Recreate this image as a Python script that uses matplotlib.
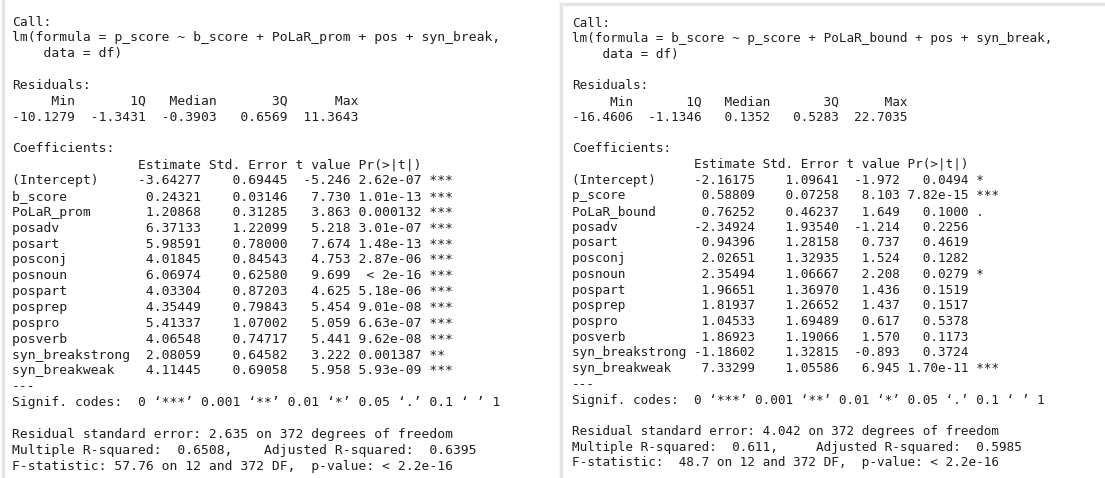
import matplotlib.pyplot as plt

# ---- left model: p_score ~ ...
left_formula = "p_score ~ b_score + PoLaR_prom + pos + syn_break"
left_resid = [-10.1279, -1.3431, -0.3903, 0.6569, 11.3643]
left_terms = ["(Intercept)", "b_score", "PoLaR_prom", "posadv", "posart", "posconj",
              "posnoun", "pospart", "posprep", "pospro", "posverb",
              "syn_breakstrong", "syn_breakweak"]
left_est = [-3.64277, 0.24321, 1.20868, 6.37133, 5.98591, 4.01845, 6.06974,
            4.03304, 4.35449, 5.41337, 4.06548, 2.08059, 4.11445]
left_se = [0.69445, 0.03146, 0.31285, 1.22099, 0.78000, 0.84543, 0.62580,
           0.87203, 0.79843, 1.07002, 0.74717, 0.64582, 0.69058]
left_t = [-5.246, 7.730, 3.863, 5.218, 7.674, 4.753, 9.699,
          4.625, 5.454, 5.059, 5.441, 3.222, 5.958]
left_p = ["2.62e-07", "1.01e-13", "0.000132", "3.01e-07", "1.48e-13", "2.87e-06",
          "< 2e-16", "5.18e-06", "9.01e-08", "6.63e-07", "9.62e-08", "0.001387", "5.93e-09"]
left_stars = ["***", "***", "***", "***", "***", "***", "***",
              "***", "***", "***", "***", "**", "***"]
left_rse, left_r2, left_adjr2, left_f = "2.635", "0.6508", "0.6395", "57.76"

# ---- right model: b_score ~ ...
right_formula = "b_score ~ p_score + PoLaR_bound + pos + syn_break"
right_resid = [-16.4606, -1.1346, 0.1352, 0.5283, 22.7035]
right_terms = ["(Intercept)", "p_score", "PoLaR_bound", "posadv", "posart", "posconj",
               "posnoun", "pospart", "posprep", "pospro", "posverb",
               "syn_breakstrong", "syn_breakweak"]
right_est = [-2.16175, 0.58809, 0.76252, -2.34924, 0.94396, 2.02651, 2.35494,
             1.96651, 1.81937, 1.04533, 1.86923, -1.18602, 7.33299]
right_se = [1.09641, 0.07258, 0.46237, 1.93540, 1.28158, 1.32935, 1.06667,
            1.36970, 1.26652, 1.69489, 1.19066, 1.32815, 1.05586]
right_t = [-1.972, 8.103, 1.649, -1.214, 0.737, 1.524, 2.208,
           1.436, 1.437, 0.617, 1.570, -0.893, 6.945]
right_p = ["0.0494", "7.82e-15", "0.1000", "0.2256", "0.4619", "0.1282", "0.0279",
           "0.1519", "0.1517", "0.5378", "0.1173", "0.3724", "1.70e-11"]
right_stars = ["*", "***", ".", "", "", "", "*", "", "", "", "", "", "***"]
right_rse, right_r2, right_adjr2, right_f = "4.042", "0.611", "0.5985", "48.7"

df_resid = 372
df_model = 12


def summary_lines(formula, resid, terms, est, se, tv, pv, stars, rse, r2, adjr2, fstat):
    lines = ["Call:",
             "lm(formula = " + formula + ", ",
             "    data = df)",
             "",
             "Residuals:"]
    names = ["Min", "1Q", "Median", "3Q", "Max"]
    rv = ["%.4f" % v for v in resid]
    w = max(len(s) for s in rv)
    lines.append(" ".join(n.rjust(w) for n in names))
    lines.append(" ".join(s.rjust(w) for s in rv))
    lines += ["", "Coefficients:"]
    nw = max(len(t) for t in terms)
    lines.append(" " * nw + " Estimate Std. Error t value Pr(>|t|)    ")
    for i in range(len(terms)):
        row = (terms[i].ljust(nw) + " " + ("%.5f" % est[i]).rjust(8) + " "
               + ("%.5f" % se[i]).rjust(10) + " " + ("%.3f" % tv[i]).rjust(7) + " "
               + pv[i].rjust(8) + " " + stars[i])
        lines.append(row)
    lines.append("---")
    lines.append("Signif. codes:  0 \u2018***\u2019 0.001 \u2018**\u2019 0.01 \u2018*\u2019 0.05 \u2018.\u2019 0.1 \u2018 \u2019 1")
    lines.append("")
    lines.append("Residual standard error: %s on %d degrees of freedom" % (rse, df_resid))
    lines.append(("Multiple R-squared:  %s,\tAdjusted R-squared:  %s " % (r2, adjr2)).expandtabs(8))
    lines.append("F-statistic: %s on %d and %d DF,  p-value: < 2.2e-16" % (fstat.rjust(5), df_model, df_resid))
    return lines


fig = plt.figure(figsize=(11.05, 4.78), dpi=100)
ax = fig.add_axes([0, 0, 1, 1])
ax.set_xlim(0, 1105)
ax.set_ylim(478, 0)
ax.axis("off")

# panel edges (light grey screenshot borders)
ax.plot([3, 3], [0, 478], color="#e4e4e4", lw=2.5)
ax.plot([561, 561], [5, 478], color="#e4e4e4", lw=2.5)
ax.plot([561, 1105], [4, 4], color="#e4e4e4", lw=2.5)

txt = "#1e1e1e"
left = summary_lines(left_formula, left_resid, left_terms, left_est, left_se, left_t,
                     left_p, left_stars, left_rse, left_r2, left_adjr2, left_f)
for i, s in enumerate(left):
    ax.text(12, 22 + i * 15.86, s, family="DejaVu Sans Mono", fontsize=9.4,
            color=txt, va="center", ha="left")

right = summary_lines(right_formula, right_resid, right_terms, right_est, right_se, right_t,
                      right_p, right_stars, right_rse, right_r2, right_adjr2, right_f)
for i, s in enumerate(right):
    ax.text(572, 23 + i * 15.71, s, family="DejaVu Sans Mono", fontsize=9.1,
            color=txt, va="center", ha="left")

fig.savefig("out.png", dpi=100, facecolor="white")
